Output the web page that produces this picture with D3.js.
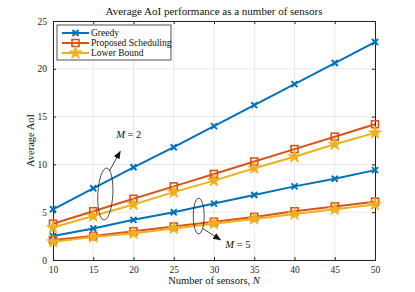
<!DOCTYPE html>
<html>
<head>
<meta charset="utf-8">
<script src="https://cdn.jsdelivr.net/npm/d3@7"></script>
<style>
  body { margin: 0; background: #fff; }
  svg { font-family: "Liberation Serif", "DejaVu Serif", serif; }
</style>
</head>
<body>
<div id="chart"></div>
<script>
// chart data
var sensors = [10, 15, 20, 25, 30, 35, 40, 45, 50];
var greedyM2   = [5.3, 7.5, 9.7, 11.8, 14.0, 16.2, 18.4, 20.6, 22.8];
var proposedM2 = [3.8, 5.1, 6.4, 7.7, 9.0, 10.3, 11.6, 12.9, 14.2];
var lowerM2    = [3.4, 4.6, 5.8, 7.1, 8.3, 9.6, 10.8, 12.1, 13.3];
var greedyM5   = [2.5, 3.3, 4.2, 5.0, 5.9, 6.8, 7.7, 8.5, 9.4];
var proposedM5 = [2.1, 2.5, 3.0, 3.5, 4.0, 4.5, 5.1, 5.6, 6.1];
var lowerM5    = [1.9, 2.4, 2.8, 3.3, 3.8, 4.3, 4.8, 5.3, 5.8];
var xTicks = [10, 15, 20, 25, 30, 35, 40, 45, 50];
var yTicks = [0, 5, 10, 15, 20, 25];
var legendNames = ["Greedy", "Proposed Scheduling", "Lower Bound"];

var width = 415, height = 292;
var margin = {top: 21, right: 40, bottom: 32, left: 53};
var w = width - margin.left - margin.right,
    h = height - margin.top - margin.bottom;

var blue = "#0072BD", orange = "#D95319", yellow = "#EDB120";

var svg = d3.select("#chart").append("svg")
    .attr("width", width)
    .attr("height", height);

var g = svg.append("g")
    .attr("transform", "translate(" + margin.left + "," + margin.top + ")");

var x = d3.scaleLinear().domain([10, 50]).range([0, w]);
var y = d3.scaleLinear().domain([0, 25]).range([h, 0]);

// grid
g.append("g").selectAll("line").data(xTicks).enter().append("line")
    .attr("x1", function(d) { return x(d); }).attr("x2", function(d) { return x(d); })
    .attr("y1", 0).attr("y2", h)
    .attr("stroke", "#e3e3e3").attr("stroke-width", 0.8);
g.append("g").selectAll("line").data(yTicks).enter().append("line")
    .attr("y1", function(d) { return y(d); }).attr("y2", function(d) { return y(d); })
    .attr("x1", 0).attr("x2", w)
    .attr("stroke", "#e3e3e3").attr("stroke-width", 0.8);

// axes (MATLAB style, ticks inside, box all round)
function styleAxis(sel) {
    sel.select(".domain").attr("stroke", "#262626").attr("stroke-width", 1);
    sel.selectAll(".tick line").attr("stroke", "#262626");
    sel.selectAll(".tick text").attr("fill", "#262626").style("font-size", "9.5px")
        .style("font-family", "Liberation Serif, serif");
}
g.append("g").attr("transform", "translate(0," + h + ")")
    .call(d3.axisBottom(x).tickValues(xTicks).tickSize(-3).tickPadding(6))
    .call(styleAxis);
g.append("g")
    .call(d3.axisTop(x).tickValues(xTicks).tickSize(-3).tickFormat(""))
    .call(styleAxis);
g.append("g")
    .call(d3.axisLeft(y).tickValues(yTicks).tickSize(-3).tickPadding(6))
    .call(styleAxis);
g.append("g").attr("transform", "translate(" + w + ",0)")
    .call(d3.axisRight(y).tickValues(yTicks).tickSize(-3).tickFormat(""))
    .call(styleAxis);

// series
var series = [
    {vals: greedyM2, color: blue, mark: "x"},
    {vals: proposedM2, color: orange, mark: "s"},
    {vals: lowerM2, color: yellow, mark: "*"},
    {vals: greedyM5, color: blue, mark: "x"},
    {vals: proposedM5, color: orange, mark: "s"},
    {vals: lowerM5, color: yellow, mark: "*"}
];

var line = d3.line()
    .x(function(d, i) { return x(sensors[i]); })
    .y(function(d) { return y(d); });

function drawMarker(sel, mark, color) {
    if (mark === "x") {
        sel.append("path").attr("d", "M-3,-3L3,3M-3,3L3,-3")
            .attr("stroke", color).attr("stroke-width", 2).attr("fill", "none");
    } else if (mark === "s") {
        sel.append("rect").attr("x", -3.5).attr("y", -3.5).attr("width", 7).attr("height", 7)
            .attr("stroke", color).attr("stroke-width", 1.6).attr("fill", "none");
    } else {
        sel.append("path").attr("d", d3.symbol().type(d3.symbolStar).size(50)())
            .attr("fill", color).attr("stroke", color).attr("stroke-width", 0.8);
    }
}

series.forEach(function(s) {
    g.append("path")
        .datum(s.vals)
        .attr("d", line)
        .attr("fill", "none")
        .attr("stroke", s.color)
        .attr("stroke-width", 2);
    s.vals.forEach(function(v, i) {
        var m = g.append("g").attr("transform", "translate(" + x(sensors[i]) + "," + y(v) + ")");
        drawMarker(m, s.mark, s.color);
    });
});

// annotations
var ann = g.append("g");
ann.append("ellipse")
    .attr("cx", x(16.5)).attr("cy", y(6.9))
    .attr("rx", 7.5).attr("ry", 26)
    .attr("transform", "rotate(3," + x(16.5) + "," + y(6.9) + ")")
    .attr("fill", "none").attr("stroke", "#222").attr("stroke-width", 0.8);
ann.append("ellipse")
    .attr("cx", x(28.1)).attr("cy", y(4.6))
    .attr("rx", 5.5).attr("ry", 18)
    .attr("fill", "none").attr("stroke", "#222").attr("stroke-width", 0.8);

svg.append("defs").append("marker")
    .attr("id", "arrow").attr("viewBox", "0 0 10 10")
    .attr("refX", 9).attr("refY", 5)
    .attr("markerWidth", 10).attr("markerHeight", 10)
    .attr("orient", "auto")
    .append("path").attr("d", "M0,1L10,5L0,9Z").attr("fill", "#111");

ann.append("line")
    .attr("x1", x(17.0)).attr("y1", y(9.3))
    .attr("x2", x(18.35)).attr("y2", y(11.35))
    .attr("stroke", "#111").attr("stroke-width", 0.8)
    .attr("marker-end", "url(#arrow)");
ann.append("line")
    .attr("x1", x(28.6)).attr("y1", y(3.3))
    .attr("x2", x(30.8)).attr("y2", y(2.1))
    .attr("stroke", "#111").attr("stroke-width", 0.8)
    .attr("marker-end", "url(#arrow)");

function mLabel(px, py, val) {
    var t = ann.append("text").attr("x", px).attr("y", py)
        .style("font-size", "10.5px").attr("fill", "#111");
    t.append("tspan").style("font-style", "italic").text("M");
    t.append("tspan").text(" = " + val);
}
mLabel(x(17.85), y(12.75), "2");
mLabel(x(31.4), y(1.3), "5");

// legend
var lg = g.append("g").attr("transform", "translate(4,4)");
lg.append("rect").attr("width", 114).attr("height", 35)
    .attr("fill", "#fff").attr("stroke", "#262626").attr("stroke-width", 0.8);
var legendSeries = series.slice(0, 3);
legendNames.forEach(function(name, i) {
    var row = lg.append("g").attr("transform", "translate(0," + (8 + i * 10) + ")");
    row.append("line").attr("x1", 5).attr("x2", 32).attr("y1", 0).attr("y2", 0)
        .attr("stroke", legendSeries[i].color).attr("stroke-width", 2);
    var m = row.append("g").attr("transform", "translate(18.5,0)");
    drawMarker(m, legendSeries[i].mark, legendSeries[i].color);
    row.append("text").attr("x", 34).attr("y", 3.3)
        .style("font-size", "9.5px").attr("fill", "#111").text(name);
});

// titles
svg.append("text")
    .attr("x", margin.left + w / 2).attr("y", 15)
    .attr("text-anchor", "middle")
    .style("font-size", "11px").attr("fill", "#111")
    .text("Average AoI performance as a number of sensors");

var xl = svg.append("text")
    .attr("x", margin.left + w / 2).attr("y", 284)
    .attr("text-anchor", "middle")
    .style("font-size", "10.5px").attr("fill", "#111");
xl.append("tspan").text("Number of sensors, ");
xl.append("tspan").style("font-style", "italic").text("N");

svg.append("text")
    .attr("transform", "translate(34," + (margin.top + h / 2) + ") rotate(-90)")
    .attr("text-anchor", "middle")
    .style("font-size", "10.5px").attr("fill", "#111")
    .text("Average AoI");
</script>
</body>
</html>
